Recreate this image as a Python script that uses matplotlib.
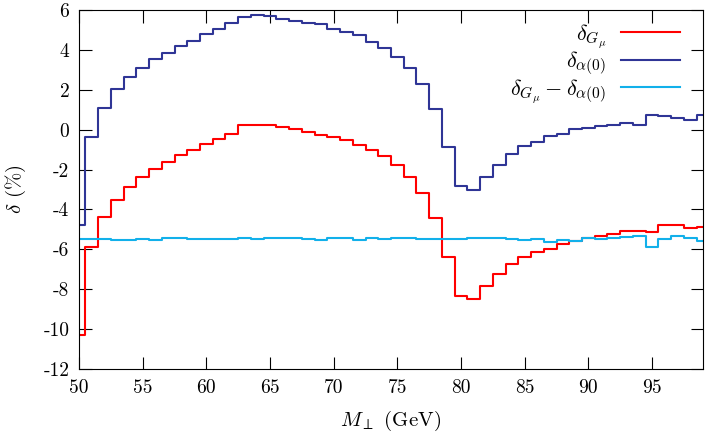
import numpy as np
import matplotlib
matplotlib.use('Agg')
import matplotlib.pyplot as plt

# bin centres (GeV)
m_perp = np.arange(50, 100)

# delta_Gmu (%)
delta_gmu = [-10.29, -5.88, -4.39, -3.52, -2.88, -2.35, -1.96, -1.63, -1.29, -1.04,
             -0.74, -0.45, -0.20, 0.22, 0.25, 0.25, 0.13, 0.05, -0.12, -0.25,
             -0.37, -0.54, -0.77, -1.04, -1.34, -1.78, -2.38, -3.17, -4.42, -6.37,
             -8.36, -8.49, -7.84, -7.22, -6.73, -6.38, -6.12, -5.96, -5.73, -5.60,
             -5.43, -5.33, -5.23, -5.06, -5.06, -5.11, -4.76, -4.76, -4.94, -4.86]

# delta_alpha(0) (%)
delta_a0 = [-4.76, -0.38, 1.08, 2.02, 2.63, 3.10, 3.55, 3.84, 4.19, 4.46,
            4.78, 5.05, 5.36, 5.66, 5.73, 5.70, 5.54, 5.44, 5.34, 5.28,
            5.06, 4.90, 4.75, 4.42, 4.10, 3.65, 3.08, 2.31, 1.05, -0.87,
            -2.83, -3.04, -2.35, -1.78, -1.24, -0.82, -0.62, -0.34, -0.24, 0.05,
            0.08, 0.17, 0.23, 0.32, 0.23, 0.75, 0.67, 0.57, 0.50, 0.73]

# difference (%)
delta_diff = [-5.46, -5.46, -5.46, -5.51, -5.51, -5.46, -5.53, -5.43, -5.43, -5.46,
              -5.46, -5.50, -5.48, -5.43, -5.50, -5.45, -5.43, -5.43, -5.48, -5.55,
              -5.43, -5.45, -5.55, -5.45, -5.48, -5.43, -5.45, -5.46, -5.46, -5.48,
              -5.50, -5.45, -5.45, -5.41, -5.50, -5.53, -5.50, -5.65, -5.53, -5.60,
              -5.45, -5.48, -5.45, -5.38, -5.31, -5.90, -5.48, -5.31, -5.41, -5.58]

xticks = [50, 55, 60, 65, 70, 75, 80, 85, 90, 95]
yticks = [-12, -10, -8, -6, -4, -2, 0, 2, 4, 6]
ytick_labels = ['-12', '-10', '-8', '-6', '-4', '-2', '0', '2', '4', '6']

plt.rcParams['font.family'] = 'cmr10'
plt.rcParams['mathtext.fontset'] = 'cm'
plt.rcParams['axes.unicode_minus'] = False

fig = plt.figure(figsize=(7.05, 4.36), dpi=100)
ax = fig.add_axes([79/705, 1-369/436, (703-79)/705, (369-10)/436])

lw = 1.5
ax.step(m_perp, delta_gmu, where='mid', color='#ff0000', lw=lw, label=r'$\delta_{G_\mu}$')
ax.step(m_perp, delta_a0, where='mid', color='#2f3596', lw=lw, label=r'$\delta_{\alpha(0)}$')
ax.step(m_perp, delta_diff, where='mid', color='#12b0ea', lw=lw,
        label=r'$\delta_{G_\mu}-\delta_{\alpha(0)}$')

ax.set_xlim(50, 99)
ax.set_ylim(-12, 6)
ax.set_xticks(xticks)
ax.set_xticklabels([str(t) for t in xticks])
ax.set_yticks(yticks)
ax.set_yticklabels(ytick_labels)
ax.tick_params(direction='in', length=9, width=0.8, top=True, right=True,
               labelsize=14, pad=7)
for s in ax.spines.values():
    s.set_linewidth(0.8)

ax.set_xlabel(r'$M_\perp$ (GeV)', fontsize=15, labelpad=9)
ax.set_ylabel(r'$\delta$ (%)', fontsize=15, labelpad=11)

ax.legend(loc='upper right', bbox_to_anchor=(1.0, 1.03), frameon=False,
          markerfirst=False, fontsize=16, handlelength=2.65, handletextpad=0.68,
          labelspacing=0.0, borderaxespad=0.62)

fig.savefig('out.png', dpi=100)
